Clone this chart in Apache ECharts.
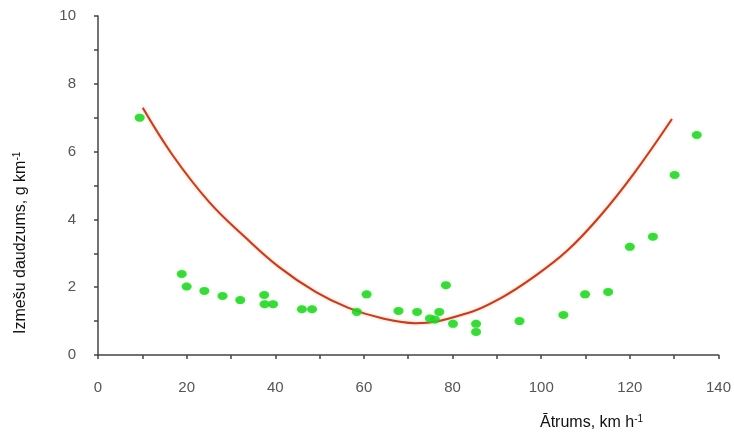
<!DOCTYPE html>
<html>
<head>
<meta charset="utf-8">
<script src="https://cdn.jsdelivr.net/npm/echarts@6/dist/echarts.min.js"></script>
<style>html,body{margin:0;padding:0;background:#fff}#c{width:734px;height:439px}</style>
</head>
<body>
<div id="c"></div>
<script>
// Measured emissions (scatter)
var pointX = [9.4, 18.9, 20.0, 24.0, 28.1, 32.1, 37.5, 37.6, 39.5, 46.0, 48.3, 58.4, 60.6, 67.8, 72.0, 74.9, 76.0, 77.0, 78.5, 80.1, 85.3, 85.3, 95.1, 105.0, 109.9, 115.1, 120.0, 125.2, 130.1, 135.1];
var pointY = [7.0, 2.39, 2.02, 1.89, 1.74, 1.62, 1.77, 1.5, 1.5, 1.35, 1.35, 1.27, 1.79, 1.3, 1.27, 1.08, 1.05, 1.27, 2.06, 0.92, 0.92, 0.68, 1.0, 1.18, 1.79, 1.86, 3.19, 3.49, 5.31, 6.49];
// Trend curve
var curveX = [10.1, 16.8, 25.1, 33.4, 40.8, 49.1, 56.5, 63.9, 71.6, 83.5, 90.9, 98.5, 105.9, 113.3, 120.9, 129.5];
var curveY = [7.29, 5.9, 4.51, 3.45, 2.6, 1.86, 1.39, 1.09, 0.94, 1.24, 1.68, 2.32, 3.08, 4.1, 5.35, 6.96];
// Axis ticks
var xTicks = [0, 20, 40, 60, 80, 100, 120, 140];
var yTicks = [0, 2, 4, 6, 8, 10];
var xTitle = 'Ātrums, km h';
var yTitle = 'Izmešu daudzums, g km';

var scatterData = pointX.map(function (x, i) { return [x, pointY[i]]; });
var curveData = curveX.map(function (x, i) { return [x, curveY[i]]; });

var chart = echarts.init(document.getElementById('c'));
var font = '"Liberation Sans", Arial, sans-serif';
var axisCommon = {
  axisLine: { show: true, onZero: false, lineStyle: { color: '#444', width: 1.5 } },
  axisTick: { show: true, length: 4, lineStyle: { color: '#444', width: 1.5 } },
  minorTick: { show: true, splitNumber: 2, length: 4, lineStyle: { color: '#444', width: 1.5 } },
  splitLine: { show: false },
  axisLabel: { color: '#555', fontSize: 15, fontFamily: font }
};
chart.setOption({
  animation: false,
  backgroundColor: '#fff',
  grid: { left: 98, right: 12, top: 16, bottom: 84 },
  xAxis: Object.assign({}, axisCommon, {
    type: 'value', min: xTicks[0], max: xTicks[xTicks.length - 1], interval: xTicks[1] - xTicks[0],
    axisLabel: Object.assign({}, axisCommon.axisLabel, { margin: 25 })
  }),
  yAxis: Object.assign({}, axisCommon, {
    type: 'value', min: yTicks[0], max: yTicks[yTicks.length - 1], interval: yTicks[1] - yTicks[0],
    axisLabel: Object.assign({}, axisCommon.axisLabel, { margin: 22 })
  }),
  graphic: [
    {
      type: 'text', left: 540, top: 414,
      style: {
        text: '{m|' + xTitle + '}{s|-1}',
        rich: {
          m: { fontSize: 16, fontFamily: font, fill: '#111', color: '#111' },
          s: { fontSize: 10, fontFamily: font, fill: '#111', color: '#111', verticalAlign: 'top', padding: [0, 0, 8, 0] }
        }
      }
    },
    {
      type: 'text', x: 12, y: 334, rotation: Math.PI / 2,
      style: {
        text: '{m|' + yTitle + '}{s|-1}',
        rich: {
          m: { fontSize: 16, fontFamily: font, fill: '#111', color: '#111' },
          s: { fontSize: 10, fontFamily: font, fill: '#111', color: '#111', verticalAlign: 'top', padding: [0, 0, 8, 0] }
        }
      }
    }
  ],
  series: [
    {
      type: 'line', data: curveData, smooth: 0.4, showSymbol: false, symbol: 'none',
      lineStyle: { color: '#b3432b', width: 2, shadowColor: 'rgba(255,140,90,0.7)', shadowBlur: 3 },
      z: 2
    },
    {
      type: 'scatter', data: scatterData, symbol: 'circle', symbolSize: [10, 8],
      itemStyle: { color: '#22cc22', shadowColor: 'rgba(80,255,80,0.6)', shadowBlur: 3 },
      z: 3
    }
  ]
});
</script>
</body>
</html>
